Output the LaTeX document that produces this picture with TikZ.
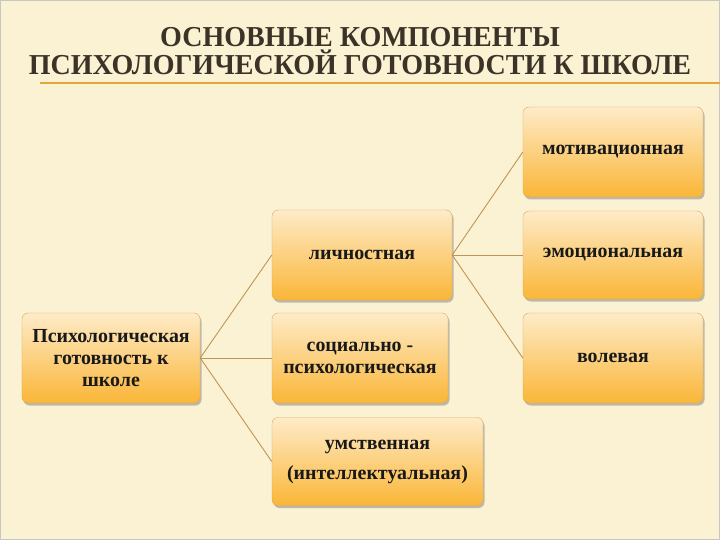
\documentclass[tikz,border=0pt]{standalone}
\usepackage{fontspec}
\setmainfont{Liberation Serif}
\newfontfamily\titlefont[FakeStretch=0.97]{Liberation Serif}
\usetikzlibrary{calc,positioning,shadows}
\definecolor{bgcream}{HTML}{FBF2D4}
\definecolor{boxtop}{HTML}{FEEBC8}
\definecolor{boxbot}{HTML}{FAB637}
\definecolor{boxline}{HTML}{D9A95A}
\definecolor{linkcol}{HTML}{BF9550}
\definecolor{titlecol}{HTML}{3B3328}
\definecolor{rulecol}{HTML}{E3A53C}

\tikzset{
  heading/.style={font=\titlefont\fontsize{29}{29}\selectfont\bfseries,
    text=titlecol, anchor=base, inner sep=0pt},
  comp/.style={draw=boxline, rounded corners=6bp, top color=boxtop,
    bottom color=boxbot, minimum height=90bp, align=center,
    font=\fontsize{20}{22}\selectfont\bfseries, text=black!90,
    drop shadow={opacity=0.5, shadow xshift=1.5bp, shadow yshift=-2.5bp}},
  link/.style={draw=linkcol, line width=0.9bp}
}

\begin{document}
\begin{tikzpicture}[x=1bp,y=-1bp]
  \fill[bgcream] (0,0) rectangle (720,540);
  \useasboundingbox (0,0) rectangle (720,540);
  \draw[gray!45, line width=1bp] (0.5,0.5) rectangle (719.5,539.5);

  \node[heading] (title1) at (360,47) {ОСНОВНЫЕ КОМПОНЕНТЫ};
  \node[heading] (title2) at (360,75) {ПСИХОЛОГИЧЕСКОЙ ГОТОВНОСТИ К ШКОЛЕ};
  \draw[rulecol, line width=1.5bp] (40,83) -- (720,83);

  \node[comp, minimum width=178bp] (root) at (111,358) {Психологическая\\готовность к\\школе};
  \node[comp, minimum width=180bp] (lich) at (362,255) {личностная};
  \node[comp, minimum width=176bp] (soc) at (360,358) {социально -\\психологическая};
  \node[comp, minimum width=211bp, minimum height=88bp] (umst) at (377.5,461.5) {умственная\\[8bp](интеллектуальная)};
  \node[comp, minimum width=180bp] (motiv) at (613,152) {мотивационная};
  \node[comp, minimum width=180bp, minimum height=88bp] (emoc) at (613,255) {эмоциональная};
  \node[comp, minimum width=180bp] (vol) at (613,358) {волевая};

  \foreach \t in {lich,soc,umst}
  \draw[link] (root.east) -- (\t.west)
  ;
  \foreach \t in {motiv,emoc,vol}
  \draw[link] (lich.east) -- (\t.west)
  ;
\end{tikzpicture}
\end{document}
